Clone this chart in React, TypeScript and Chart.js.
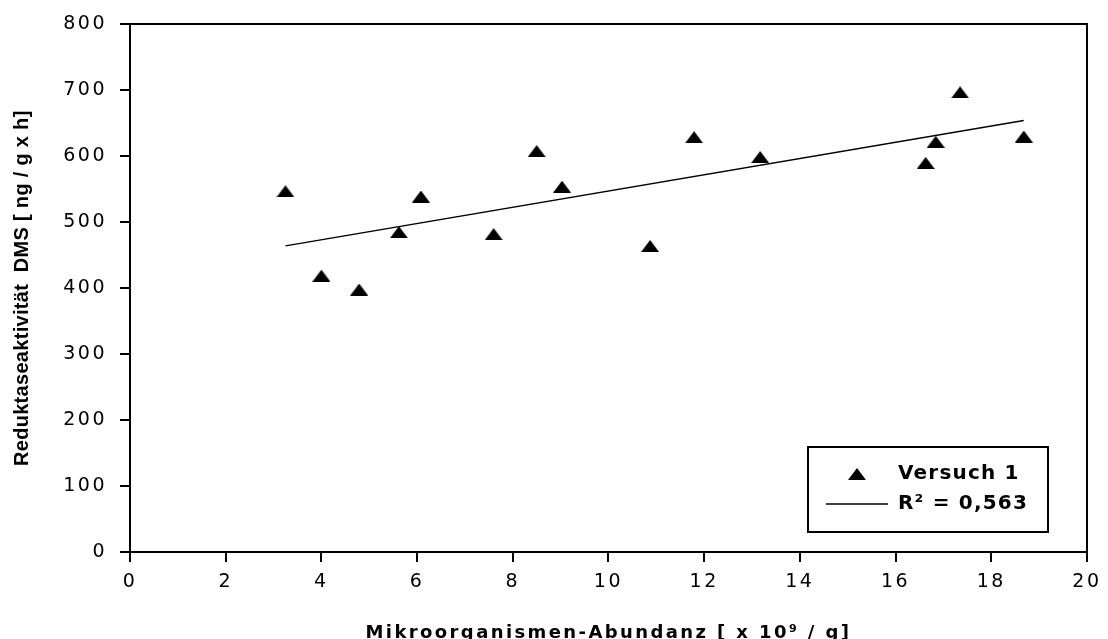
import React, { useEffect, useRef } from 'react';
import { Chart, registerables, LinearScale } from 'chart.js';

Chart.register(...registerables);

// ---- data ----
const abundance = [3.25, 4.0, 4.79, 5.62, 6.08, 7.6, 8.5, 9.03, 10.87, 11.79, 13.17, 16.63, 16.84, 17.35, 18.68];
const reductase = [547, 419, 398, 485, 539, 482, 608, 554, 464, 629, 599, 590, 622, 697, 630];
const seriesLabel = 'Versuch 1';
const trendLabel = 'R² = 0,563';
const xTitle = 'Mikroorganismen-Abundanz [ x 10⁹ / g]';
const yTitle = 'Reduktaseaktivität  DMS [ ng / g x h]';
const xRange = [0, 20];
const xStep = 2;
const yRange = [0, 800];
const yStep = 100;

const WIDE = '"DejaVu Sans", Verdana, sans-serif';
const ARIAL = '"Liberation Sans", Arial, sans-serif';
const LABEL_SPACING: Record<string, string> = { x: '2.5px', y: '2.5px' };
const TITLE_SPACING: Record<string, string> = { x: '2.4px', y: '0.3px' };
const LEGEND_SPACING = '1.2px';

class SpacedLinearScale extends LinearScale {
  static id = 'spacedLinear';
  static defaults = LinearScale.defaults;
  drawTitle() {
    const ctx: any = this.ctx;
    ctx.save();
    ctx.letterSpacing = TITLE_SPACING[this.id] || '0px';
    super.drawTitle();
    ctx.restore();
  }
  drawLabels(area: any) {
    const ctx: any = this.ctx;
    ctx.save();
    ctx.letterSpacing = LABEL_SPACING[this.id] || '0px';
    super.drawLabels(area);
    ctx.restore();
  }
}
Chart.register(SpacedLinearScale as any);

function linearFit(xs: number[], ys: number[]) {
  const n = xs.length;
  const mx = xs.reduce((a, b) => a + b, 0) / n;
  const my = ys.reduce((a, b) => a + b, 0) / n;
  let sxy = 0;
  let sxx = 0;
  for (let i = 0; i < n; i++) {
    sxy += (xs[i] - mx) * (ys[i] - my);
    sxx += (xs[i] - mx) * (xs[i] - mx);
  }
  const slope = sxy / sxx;
  return { slope, intercept: my - slope * mx };
}

function makeTriangle(w: number, h: number) {
  const c = document.createElement('canvas');
  c.width = w;
  c.height = h;
  const g = c.getContext('2d')!;
  g.fillStyle = '#000';
  g.beginPath();
  g.moveTo(0, h);
  g.lineTo(w / 2, 0);
  g.lineTo(w, h);
  g.closePath();
  g.fill();
  return c;
}

const framePlugin = {
  id: 'legendFrame',
  beforeDraw(chart: any) {
    chart.ctx.letterSpacing = LEGEND_SPACING;
  },
  afterLayout(chart: any) {
    const lg = chart.legend;
    if (!lg) return;
    lg.left = 816;
    lg.top = 454;
    lg.right = 1048;
    lg.bottom = 532;
    lg.width = lg.right - lg.left;
    lg.height = lg.bottom - lg.top;
  },
  afterDraw(chart: any) {
    const ctx = chart.ctx;
    ctx.save();
    ctx.strokeStyle = '#000';
    ctx.lineWidth = 2;
    ctx.strokeRect(808, 447, 240, 85);
    ctx.restore();
  },
};

export default function App() {
  const ref = useRef<HTMLCanvasElement>(null);

  useEffect(() => {
    if (!ref.current) return;
    const fit = linearFit(abundance, reductase);
    const xLo = Math.min(...abundance);
    const xHi = Math.max(...abundance);
    const points = abundance.map((x, i) => ({ x, y: reductase[i] }));
    const trend = [xLo, xHi].map((x) => ({ x, y: fit.intercept + fit.slope * x }));
    const tri = makeTriangle(18, 12);

    const chart = new Chart(ref.current, {
      type: 'scatter',
      data: {
        datasets: [
          {
            label: seriesLabel,
            data: points,
            xAxisID: 'x',
            yAxisID: 'y',
            pointStyle: tri as any,
            pointRadius: 6,
            backgroundColor: '#000',
            borderColor: '#000',
            showLine: false,
          },
          {
            label: trendLabel,
            data: trend,
            xAxisID: 'x',
            yAxisID: 'y',
            showLine: true,
            pointRadius: 0,
            pointStyle: 'line',
            borderColor: '#000',
            borderWidth: 1.5,
            pointBorderWidth: 1.5,
            pointBorderColor: '#000',
            backgroundColor: '#000',
            fill: false,
          } as any,
        ],
      },
      options: {
        animation: false,
        responsive: false,
        devicePixelRatio: 1,
        layout: { padding: { left: 0, top: 17, right: 18, bottom: 0 } },
        plugins: {
          legend: {
            position: 'chartArea' as any,
            align: 'start',
            labels: {
              usePointStyle: true,
              pointStyleWidth: 62,
              padding: 10,
              color: '#000',
              font: { family: WIDE, size: 20, weight: 'bold' },
            },
          },
          tooltip: { enabled: false },
        },
        scales: {
          x: {
            type: 'spacedLinear' as any,
            position: 'bottom',
            min: xRange[0],
            max: xRange[1],
            ticks: {
              stepSize: xStep,
              padding: 9,
              color: '#000',
              maxRotation: 0,
              autoSkip: false,
              font: { family: WIDE, size: 19 },
            },
            grid: { display: true, drawOnChartArea: false, drawTicks: true, tickLength: 10, color: '#000', lineWidth: 2 },
            border: { display: true, color: '#000', width: 2 },
            title: {
              display: true,
              text: xTitle,
              color: '#000',
              font: { family: WIDE, size: 18, weight: 'bold', lineHeight: 1 },
              padding: { top: 0, bottom: -3 },
            },
            afterFit: (s: any) => {
              s.height = 87;
            },
          },
          y: {
            type: 'spacedLinear' as any,
            position: 'left',
            min: yRange[0],
            max: yRange[1],
            ticks: {
              stepSize: yStep,
              padding: 13,
              color: '#000',
              font: { family: WIDE, size: 19 },
            },
            grid: { display: true, drawOnChartArea: false, drawTicks: true, tickLength: 10, color: '#000', lineWidth: 2 },
            border: { display: true, color: '#000', width: 2 },
            title: {
              display: true,
              text: yTitle,
              color: '#000',
              font: { family: ARIAL, size: 20, weight: 'bold', lineHeight: 1.2 },
              padding: { top: 10, bottom: 0 },
            },
            afterFit: (s: any) => {
              s.width = 130;
            },
          },
          x2: {
            type: 'linear',
            position: 'top',
            min: 0,
            max: 1,
            ticks: { display: false },
            grid: { display: false, drawTicks: false },
            border: { display: true, color: '#000', width: 2 },
            afterFit: (s: any) => {
              s.height = 0;
            },
          },
          y2: {
            type: 'linear',
            position: 'right',
            min: 0,
            max: 1,
            ticks: { display: false },
            grid: { display: false, drawTicks: false },
            border: { display: true, color: '#000', width: 2 },
            afterFit: (s: any) => {
              s.width = 0;
            },
          },
        } as any,
      },
      plugins: [framePlugin as any],
    });
    return () => chart.destroy();
  }, []);

  return (
    <div style={{ position: 'absolute', left: 0, top: 0, width: 1108, height: 639, background: '#fff' }}>
      <canvas ref={ref} width={1108} height={639} style={{ display: 'block', width: 1108, height: 639 }} />
    </div>
  );
}
